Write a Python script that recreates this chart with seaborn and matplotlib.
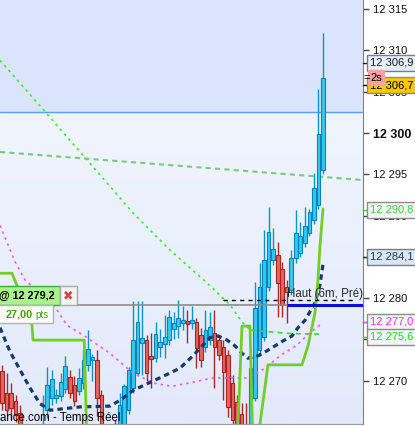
import numpy as np
import pandas as pd
import matplotlib
matplotlib.use("Agg")
import matplotlib.pyplot as plt
import seaborn as sns
from matplotlib.patches import Rectangle
from matplotlib.colors import LinearSegmentedColormap

# candles, oldest first (one bar per index)
opens = [12271.2, 12268.5, 12268.5, 12267.5, 12266.1, 12264.0, 12262.5, 12261.5, 12262.8, 12263.4,
         12266.4, 12267.9, 12267.9, 12268.1, 12269.0, 12270.4, 12269.5, 12268.7, 12269.7, 12271.9,
         12272.5, 12272.5, 12268.2, 12264.0, 12262.0, 12264.5, 12262.8, 12264.5, 12266.4, 12269.1,
         12270.9, 12274.5, 12274.9, 12273.0, 12272.7, 12274.1, 12274.4, 12274.9, 12276.2, 12276.6,
         12277.0, 12277.2, 12277.0, 12277.1, 12275.5, 12274.1, 12274.9, 12275.8, 12274.9, 12274.1,
         12273.1, 12269.7, 12267.4, 12265.9, 12263.5, 12263.0, 12267.9, 12273.7, 12275.3, 12281.3,
         12284.6, 12285.2, 12283.5, 12281.3, 12281.0, 12284.8, 12285.5, 12286.7, 12287.9, 12289.5,
         12291.3, 12295.5]
highs = [12271.9, 12270.9, 12269.7, 12268.2, 12267.0, 12264.5, 12263.5, 12263.5, 12264.2, 12268.2,
         12271.6, 12271.3, 12269.0, 12270.9, 12273.0, 12271.3, 12270.5, 12271.5, 12273.7, 12276.1,
         12273.2, 12273.7, 12268.8, 12264.6, 12262.8, 12265.2, 12268.5, 12269.6, 12271.6, 12279.6,
         12279.6, 12279.6, 12275.5, 12275.8, 12277.1, 12276.2, 12277.9, 12278.5, 12278.3, 12279.8,
         12279.0, 12278.5, 12279.0, 12277.6, 12276.4, 12278.5, 12278.3, 12278.5, 12275.5, 12274.9,
         12273.7, 12270.7, 12268.2, 12267.3, 12267.3, 12271.5, 12282.0, 12284.2, 12288.2, 12291.0,
         12288.5, 12286.8, 12284.4, 12282.2, 12285.8, 12290.7, 12289.2, 12291.0, 12290.8, 12295.2,
         12305.3, 12312.1]
lows = [12266.4, 12265.8, 12265.2, 12265.0, 12263.5, 12262.0, 12261.0, 12260.8, 12262.0, 12262.5,
        12265.4, 12267.0, 12267.3, 12267.5, 12268.5, 12267.9, 12266.9, 12268.2, 12269.0, 12271.2,
        12270.0, 12265.7, 12263.0, 12261.5, 12260.5, 12261.0, 12262.0, 12264.0, 12266.0, 12268.5,
        12270.5, 12270.7, 12270.0, 12269.1, 12272.2, 12272.8, 12272.7, 12274.3, 12275.0, 12275.2,
        12276.1, 12274.5, 12276.2, 12271.5, 12271.6, 12273.5, 12274.3, 12269.1, 12272.5, 12267.6,
        12265.6, 12264.5, 12263.0, 12262.0, 12261.5, 12262.5, 12267.5, 12273.0, 12274.8, 12280.8,
        12284.0, 12277.7, 12277.7, 12277.0, 12280.4, 12284.2, 12285.0, 12286.2, 12287.5, 12289.0,
        12290.8, 12295.0]
closes = [12267.3, 12266.4, 12266.7, 12265.8, 12264.2, 12262.5, 12261.5, 12262.8, 12263.6, 12264.5,
          12269.5, 12270.2, 12268.2, 12269.8, 12271.8, 12268.5, 12267.5, 12270.3, 12272.5, 12273.8,
          12272.8, 12267.9, 12264.0, 12262.0, 12261.0, 12262.0, 12267.0, 12269.3, 12271.3, 12274.9,
          12277.1, 12275.2, 12270.9, 12272.6, 12275.6, 12274.7, 12275.3, 12277.7, 12277.0, 12277.6,
          12277.3, 12276.8, 12277.3, 12273.9, 12272.5, 12276.1, 12276.5, 12274.1, 12273.1, 12271.0,
          12266.8, 12265.2, 12264.0, 12262.8, 12262.5, 12271.5, 12278.8, 12281.3, 12284.6, 12288.0,
          12285.9, 12281.8, 12279.2, 12280.7, 12284.8, 12287.9, 12287.5, 12288.7, 12290.4, 12293.3,
          12299.9, 12306.7]

# indicator lines (bar index, price)
steep_x = [-0.44, 8.4, 17.3, 29.0, 37.2, 45.4, 50.4, 53.1, 54.9]
steep_y = [12308.8, 12303.3, 12297.7, 12290.3, 12285.8, 12281.8, 12279.2, 12277.1, 12276.1]
flat_x = [54.9, 59.3, 63.7, 71.0]
flat_y = [12276.1, 12275.9, 12275.7, 12275.6]
slow_x = [-0.44, 79.87]
slow_y = [12297.7, 12294.3]
magenta_x = [-0.44, 2.88, 5.09, 11.73, 14.38, 18.81, 23.89, 28.76, 33.41, 37.61, 42.26, 46.46,
             54.42, 58.19, 61.5, 65.27, 68.14, 71.0]
magenta_y = [12288.8, 12284.4, 12282.2, 12278.9, 12276.7, 12275.2, 12273.3, 12271.0, 12269.7,
             12269.3, 12269.8, 12270.3, 12270.3, 12271.5, 12273.0, 12274.3, 12275.8, 12277.0]
navy_x = [-0.44, 1.77, 3.98, 6.19, 8.41, 10.62, 17.26, 23.89, 26.11, 28.98, 32.08, 35.62, 39.38,
          42.26, 44.47, 46.02, 47.79, 49.78, 51.55, 53.10, 54.42, 56.64, 58.63, 60.40, 62.17,
          64.16, 65.49, 67.04, 69.25, 70.35, 71.02]
navy_y = [12276.4, 12273.5, 12271.3, 12269.1, 12267.2, 12266.4, 12266.8, 12266.9, 12267.6, 12268.8,
          12269.6, 12270.5, 12271.5, 12273.0, 12274.3, 12275.2, 12275.4, 12274.9, 12274.2, 12273.3,
          12272.7, 12273.0, 12273.6, 12274.2, 12274.8, 12275.4, 12276.4, 12277.3, 12279.4, 12281.6,
          12284.1]
stop_x = [-0.44, 2.21, 3.32, 6.64, 6.86, 18.2, 18.8, 52.0, 53.1, 54.87, 55.5, 56.4, 58.85,
          66.37, 67.70, 69.25, 69.91, 70.35, 71.02]
stop_y = [12283.0, 12283.0, 12281.5, 12276.7, 12274.9, 12274.9, 12262.0, 12262.0, 12276.6,
          12276.6, 12262.0, 12262.0, 12271.9, 12271.9, 12274.2, 12278.2, 12282.2, 12286.3, 12290.8]

order_price = 12279.2
haut_price = 12279.8
zone_price = 12302.5
blue_start = 63.05
haut_start, haut_end = 48.9, 78.1

# price boxes on the axis: text, level, face, edge, text colour
box_text = ["12 306,9", "12 306,7", "12 290,8", "12 284,1", "12 277,0", "12 275,6"]
box_level = [12308.5, 12305.8, 12290.7, 12285.0, 12277.1, 12275.3]
box_face = ["#e9eef5", "#ffc800", "#f4f7fb", "#dde5ef", "#f4f7fb", "#f4f7fb"]
box_edge = ["#6f7f90", "#8a8a8a", "#8a8a8a", "#6f7f90", "#8a8a8a", "#8a8a8a"]
box_color = ["#1a1a2a", "#000000", "#3fd03f", "#163a6b", "#ff33ff", "#22dd22"]

sns.set_style("white")
plt.rcParams['font.family'] = ['Liberation Sans', 'DejaVu Sans']

W, H = 415, 426
fig = plt.figure(figsize=(W / 100, H / 100), dpi=100, facecolor='white')
ax = fig.add_axes([0, 2 / H, 363 / W, 424 / H])

x0, x1 = -0.44, 79.87
y0, y1 = 12264.73, 12316.12

# background
grad = np.linspace(0, 1, 256).reshape(-1, 1)
cmap = LinearSegmentedColormap.from_list('bg', ['#e2e9fa', '#f0f5fe'])
ax.imshow(grad, extent=(x0, x1, y0, zone_price), origin='lower', aspect='auto', cmap=cmap, zorder=0)
ax.axhspan(zone_price, y1 + 1, color='#dae4fb', lw=0, zorder=0.1)
ax.axhline(zone_price, color='#5d9cff', lw=1, zorder=1)

# candles
df = pd.DataFrame(dict(o=opens, h=highs, l=lows, c=closes))
df['i'] = np.arange(len(df))
up = df[df.c >= df.o]
dn = df[df.c < df.o]
for sub, fill, edge, wick in [(up, '#33c8f4', '#0a84b6', '#0a93c6'),
                              (dn, '#e8645d', '#a62424', '#a52a2a')]:
    ax.vlines(sub.i, sub.l, sub.h, color=wick, lw=1, zorder=3)
    body = (sub.c - sub.o).abs().clip(lower=0.3)
    ax.bar(sub.i, body, bottom=sub[['o', 'c']].min(axis=1), width=0.8,
           color=fill, edgecolor=edge, lw=0.8, zorder=3.5)


def line(xs, ys, **kw):
    sns.lineplot(x=xs, y=ys, ax=ax, estimator=None, sort=False, legend=False, **kw)


line(slow_x, slow_y, color='#5fbf5f', alpha=0.8, lw=1.5, linestyle=(0, (2.5, 2)), zorder=2)
line(steep_x, steep_y, color='#33ee33', lw=1.2, linestyle=(0, (1.5, 2.4)), zorder=4)
line(flat_x, flat_y, color='#33dd33', lw=1.2, linestyle=(0, (3, 2.5)), zorder=4)
line(magenta_x, magenta_y, color='#ff55ff', lw=1.2, linestyle=(0, (1.5, 2.4)), zorder=4)
line(navy_x, navy_y, color='#163a6b', lw=2.3, linestyle=(0, (1.7, 1.3)), zorder=4)
line(stop_x, stop_y, color='#72cc2a', lw=2.0, zorder=4.2)

# order / levels
ax.axhline(order_price, color='#8c8c8c', lw=1.2, zorder=5)
ax.hlines(order_price, blue_start, x1, color='#0010dd', lw=2.2, zorder=5.5)
ax.hlines(haut_price, haut_start, haut_end, colors='k', lw=1, linestyles=(0, (3, 3)), zorder=6)
ax.text(blue_start, 12280.1, "Haut (6m, Pré)", fontsize=8.3, va='baseline', ha='left', zorder=6)

ax.set_xlim(x0, x1)
ax.set_ylim(y0, y1)
ax.set_xlabel('')
ax.set_ylabel('')
ax.set_xticks([])
ax.yaxis.tick_right()
ticks = list(range(12270, 12320, 5))
ax.set_yticks(ticks)
ax.set_yticklabels([f"{t // 1000} {t % 1000:03d}" for t in ticks])
ax.tick_params(axis='y', direction='out', length=4, width=1, colors='#444444',
               labelcolor='#111111', labelsize=8, pad=3)
for lab in ax.get_yticklabels():
    if lab.get_text() == '12 300':
        lab.set_fontweight('bold')
        lab.set_fontsize(9)
for s in ['left', 'top']:
    ax.spines[s].set_visible(False)
ax.spines['right'].set_color('#808080')
ax.spines['bottom'].set_color('#9a9a9a')

ytr = ax.get_yaxis_transform()
for txt, lv, fc, ec, tc in zip(box_text, box_level, box_face, box_edge, box_color):
    ax.plot([1.0, 1.014], [lv, lv], transform=ytr, color=tc, lw=1, clip_on=False, zorder=9)
    ax.text(1.02, lv, txt, transform=ytr, ha='left', va='center', fontsize=8, color=tc,
            bbox=dict(boxstyle='square,pad=0.26', fc=fc, ec=ec, lw=1), zorder=10, clip_on=False)
ax.text(1.02, 12306.7, "2s", transform=ytr, ha='left', va='center', fontsize=8, color='k',
        bbox=dict(boxstyle='square,pad=0.22', fc='#f5a3a3', ec='#f5a3a3', lw=1), zorder=11, clip_on=False)
ax.text(1.002, 12306.65, "=", transform=ytr, ha='left', va='center', fontsize=8, color='k',
        zorder=11, clip_on=False)


def px_rect(xa, ya, xb, yb, **kw):
    fig.add_artist(Rectangle((xa / W, 1 - yb / H), (xb - xa) / W, (yb - ya) / H,
                             transform=fig.transFigure, **kw))


def px_text(xp, yp, s, **kw):
    fig.text(xp / W, 1 - yp / H, s, va='center', **kw)


# order ticket
px_rect(-2, 286, 60, 305, fc='#a9f28e', ec='#3aaa3a', lw=1)
px_rect(60, 286, 77, 305, fc='#f3f3f3', ec='#a8a8a8', lw=1)
px_rect(-2, 305, 53, 323, fc='#fbfbfb', ec='#b3b3b3', lw=1)
px_text(-1, 295.5, "@ 12 279,2", fontsize=7.8, fontweight='bold', color='k')
px_text(68.5, 295.5, "✖", fontsize=9, color='#e04040', ha='center', family='DejaVu Sans')
px_text(6, 314.5, "27,00", fontsize=7.8, fontweight='bold', color='#4a9d16')
px_text(35, 315, "pts", fontsize=7, color='#4a9d16')
px_text(0, 418, "ance.com - Temps Réel", fontsize=8.3, color='k')

fig.savefig("out.png", dpi=100)
